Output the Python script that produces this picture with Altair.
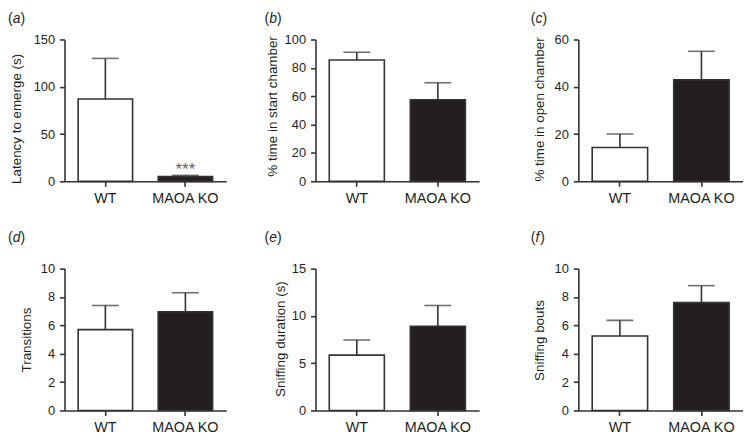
import altair as alt
import pandas as pd

# ---------------- data ----------------
panel_letters = ["a", "b", "c", "d", "e", "f"]
groups = ["WT", "MAOA KO"]
y_titles = [
    "Latency to emerge (s)",
    "% time in start chamber",
    "% time in open chamber",
    "Transitions",
    "Sniffing duration (s)",
    "Sniffing bouts",
]
wt_mean = [87, 85.5, 14.3, 5.7, 5.85, 5.25]
wt_err_top = [130, 91, 20, 7.4, 7.45, 6.35]
ko_mean = [5, 57.5, 43, 6.95, 8.9, 7.6]
ko_err_top = [6.3, 69.5, 55, 8.3, 11.1, 8.8]
y_max = [150, 100, 60, 10, 15, 10]
y_ticks = [
    [0, 50, 100, 150],
    [0, 20, 40, 60, 80, 100],
    [0, 20, 40, 60],
    [0, 2, 4, 6, 8, 10],
    [0, 5, 10, 15],
    [0, 2, 4, 6, 8, 10],
]
sig_labels = ["***", "", "", "", "", ""]

# ---------------- layout / style ----------------
PLOT_H = 143
CELL_W = [253, 265, 166, 253, 265, 166]
VIS_W = [163, 165, 166, 163, 165, 166]
TITLE_X = [-44.5, -39.5, -35, -34, -31.5, -35]
TITLE_Y = [79.5, 67, 70, 71.5, 70.5, 72]
LABEL_X = [-57, -51.5, -48, -57, -51.5, -48]
LABEL_Y = [-28, -28, -28, -37.5, -37.5, -37.5]
LETTER_W = {"a": 7.8, "b": 7.8, "c": 7.0, "d": 7.8, "e": 7.8, "f": 4.6}
FONT = "Liberation Sans"
INK = "#231f20"
LINE = "#333333"


def make_panel(i):
    df = pd.DataFrame({
        "group": groups,
        "mean": [wt_mean[i], ko_mean[i]],
        "top": [wt_err_top[i], ko_err_top[i]],
        "sig": ["", sig_labels[i]],
    })
    xenc = alt.X(
        "group:N", sort=groups, title=None,
        scale=alt.Scale(range=[0, VIS_W[i]], paddingInner=0.32, paddingOuter=0.17),
        axis=alt.Axis(labelAngle=0, tickSize=5, labelPadding=5, labelFontSize=14.5,
                      domainWidth=1.6, tickWidth=1.6),
    )
    yscale = alt.Scale(domain=[0, y_max[i]], nice=False, zero=True)
    yaxis = alt.Axis(
        values=y_ticks[i], title=y_titles[i], tickSize=5, labelPadding=5,
        labelFontSize=13, domainWidth=1.6, tickWidth=1.6,
        titleX=TITLE_X[i], titleY=TITLE_Y[i], titleAngle=270,
        titleBaseline="alphabetic", titleAlign="center", titleFontSize=13.5,
    )
    base = alt.Chart(df)
    bars = base.mark_bar(stroke=LINE, strokeWidth=1.6).encode(
        x=xenc,
        y=alt.Y("mean:Q", scale=yscale, axis=yaxis),
        fill=alt.Fill("group:N", scale=alt.Scale(domain=groups, range=["#ffffff", INK]), legend=None),
    )
    err = base.mark_rule(color=LINE, strokeWidth=1.6).encode(
        x=xenc, y=alt.Y("mean:Q", scale=yscale, axis=yaxis), y2="top:Q"
    )
    cap = base.mark_tick(color=LINE, thickness=1.6, size=27).encode(
        x=xenc, y=alt.Y("top:Q", scale=yscale, axis=yaxis)
    )
    sig = base.mark_text(baseline="alphabetic", dy=0, fontSize=17, color="#666666", font=FONT).encode(
        x=xenc, y=alt.Y("top:Q", scale=yscale, axis=yaxis), text="sig:N"
    )
    letter = panel_letters[i]
    x0 = LABEL_X[i]
    y0 = LABEL_Y[i]
    lp = alt.Chart(pd.DataFrame({"t": ["("]})).mark_text(
        align="left", baseline="top", fontSize=14, font=FONT, color=INK
    ).encode(x=alt.value(x0), y=alt.value(y0), text="t:N")
    ll = alt.Chart(pd.DataFrame({"t": [letter]})).mark_text(
        align="left", baseline="top", fontSize=14, font=FONT, color=INK, fontStyle="italic"
    ).encode(x=alt.value(x0 + 4.9), y=alt.value(y0), text="t:N")
    rp = alt.Chart(pd.DataFrame({"t": [")"]})).mark_text(
        align="left", baseline="top", fontSize=14, font=FONT, color=INK
    ).encode(x=alt.value(x0 + 4.9 + LETTER_W[letter]), y=alt.value(y0), text="t:N")
    return alt.layer(bars, err, cap, sig, lp, ll, rp).properties(width=CELL_W[i], height=PLOT_H)


panels = [make_panel(i) for i in range(6)]

chart = alt.concat(
    *panels, columns=3, spacing={"row": 88, "column": 0}, bounds="flush", align="none"
).properties(
    padding={"left": 0, "top": 2, "right": 0, "bottom": 0}
).configure_view(
    stroke=None
).configure_axis(
    grid=False, labelFont=FONT, titleFont=FONT, labelColor=INK, titleColor=INK,
    domainColor=LINE, tickColor=LINE, titleFontWeight="normal",
)

chart.save("out.html", embed_options={"renderer": "svg", "actions": False})
